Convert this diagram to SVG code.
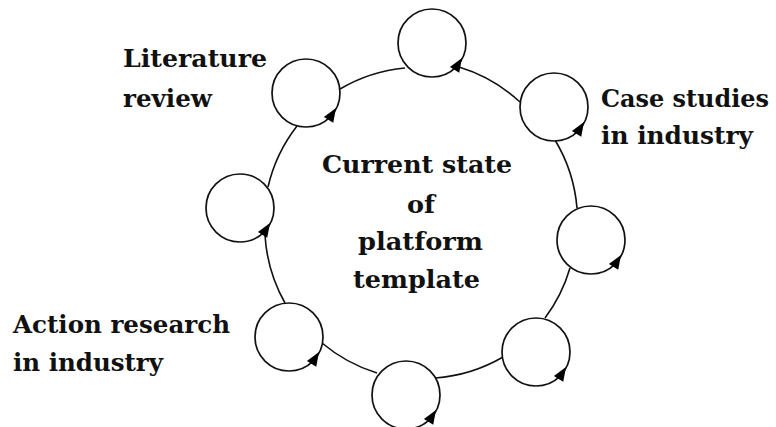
<svg xmlns="http://www.w3.org/2000/svg" xmlns:xlink="http://www.w3.org/1999/xlink" width="776" height="427" viewBox="0 0 776 427">
<style>
.edge{fill:none;stroke:#111;stroke-width:1.6}
.node{fill:#fff;stroke:#111;stroke-width:1.7}
.lbl{font-family:"DejaVu Serif","Liberation Serif",serif;font-weight:bold;font-size:25px;fill:#111}
</style>
<defs>
<path id="ah" d="M0,0 L-14,-5.5 L-14,5.5 Z" fill="#000"/>
</defs>
<rect width="776" height="427" fill="#fff"/>
<g id="connectors">
<path class="edge" d="M459,67 A157,157 0 0 1 520,102"/>
<path class="edge" d="M555,140 A157,157 0 0 1 577,208"/>
<path class="edge" d="M570,268 A157,157 0 0 1 545,318"/>
<path class="edge" d="M503,357 A157,157 0 0 1 435,378"/>
<path class="edge" d="M377,373 A157,157 0 0 1 322,343"/>
<path class="edge" d="M285,303 A157,157 0 0 1 265,235"/>
<path class="edge" d="M268,187 A157,157 0 0 1 297,126"/>
<path class="edge" d="M340,89 A157,157 0 0 1 405,68"/>
</g>
<g id="n1"><circle class="node" cx="432" cy="43" r="34"/><use xlink:href="#ah" transform="translate(462,58) rotate(-58)"/></g>
<g id="n2"><circle class="node" cx="554" cy="107" r="34"/><use xlink:href="#ah" transform="translate(584,122) rotate(-58)"/></g>
<g id="n3"><circle class="node" cx="591" cy="240" r="34"/><use xlink:href="#ah" transform="translate(621,255) rotate(-58)"/></g>
<g id="n4"><circle class="node" cx="536" cy="352" r="34"/><use xlink:href="#ah" transform="translate(566,367) rotate(-58)"/></g>
<g id="n5"><circle class="node" cx="406" cy="395" r="34"/><use xlink:href="#ah" transform="translate(436,410) rotate(-58)"/></g>
<g id="n6"><circle class="node" cx="289" cy="337" r="34"/><use xlink:href="#ah" transform="translate(319,352) rotate(-58)"/></g>
<g id="n7"><circle class="node" cx="240" cy="208" r="34"/><use xlink:href="#ah" transform="translate(270,223) rotate(-58)"/></g>
<g id="n8"><circle class="node" cx="306" cy="93" r="34"/><use xlink:href="#ah" transform="translate(336,108) rotate(-58)"/></g>
<g id="center-label">
<text class="lbl" x="322" y="173" textLength="190" lengthAdjust="spacingAndGlyphs">Current state</text>
<text class="lbl" x="407" y="213" textLength="28" lengthAdjust="spacingAndGlyphs">of</text>
<text class="lbl" x="358" y="250" textLength="125" lengthAdjust="spacingAndGlyphs">platform</text>
<text class="lbl" x="353" y="288" textLength="127" lengthAdjust="spacingAndGlyphs">template</text>
</g>
<g id="label-literature">
<text class="lbl" x="123" y="67" textLength="144" lengthAdjust="spacingAndGlyphs">Literature</text>
<text class="lbl" x="123" y="107" textLength="89" lengthAdjust="spacingAndGlyphs">review</text>
</g>
<g id="label-case">
<text class="lbl" x="601" y="107" textLength="168" lengthAdjust="spacingAndGlyphs">Case studies</text>
<text class="lbl" x="601" y="144" textLength="152" lengthAdjust="spacingAndGlyphs">in industry</text>
</g>
<g id="label-action">
<text class="lbl" x="13" y="333" textLength="217" lengthAdjust="spacingAndGlyphs">Action research</text>
<text class="lbl" x="13" y="371" textLength="150" lengthAdjust="spacingAndGlyphs">in industry</text>
</g>
</svg>
